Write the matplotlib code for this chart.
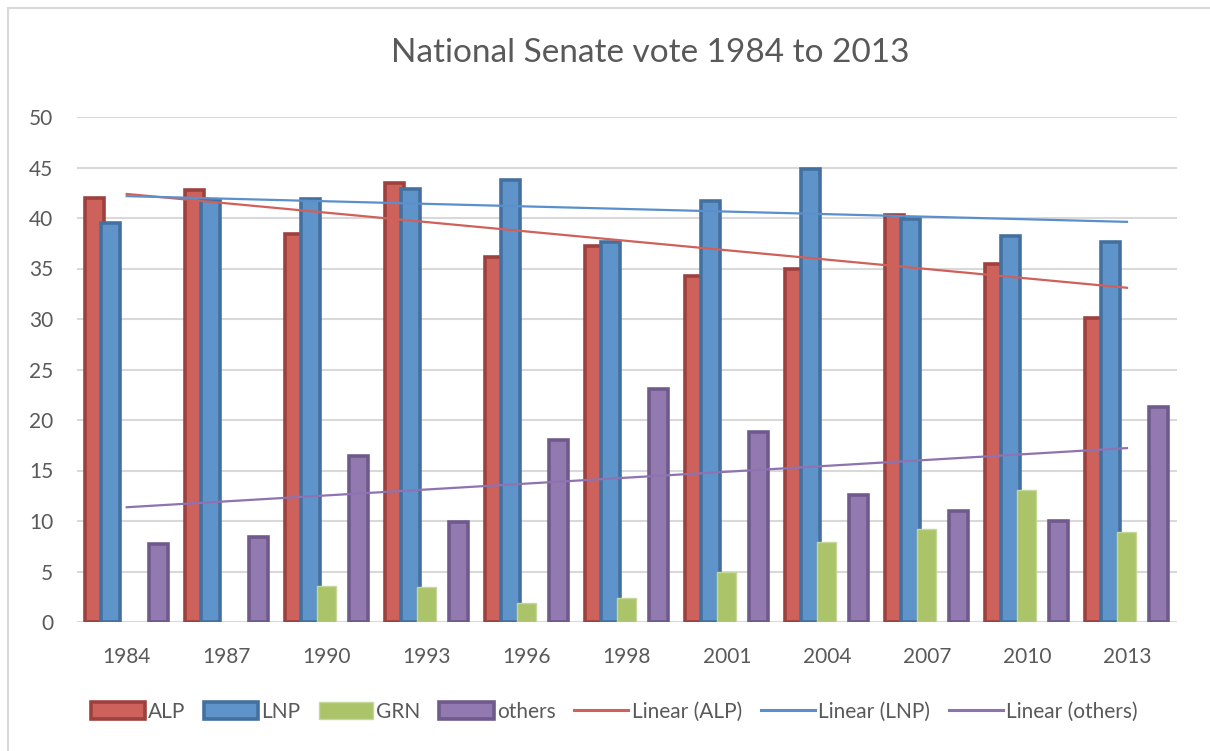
import numpy as np
import matplotlib
matplotlib.use("Agg")
import matplotlib.pyplot as plt
from matplotlib.patches import Rectangle, Patch
from matplotlib.lines import Line2D

years = ["1984", "1987", "1990", "1993", "1996", "1998", "2001", "2004", "2007", "2010", "2013"]
alp = [42.0, 42.8, 38.4, 43.5, 36.1, 37.2, 34.3, 35.0, 40.3, 35.4, 30.1]
lnp = [39.5, 41.8, 41.9, 42.9, 43.8, 37.6, 41.7, 44.9, 39.9, 38.2, 37.6]
grn = [None, None, 3.6, 3.5, 1.9, 2.4, 5.0, 7.9, 9.2, 13.1, 8.9]
others = [7.7, 8.4, 16.4, 9.9, 18.0, 23.1, 18.8, 12.6, 11.0, 10.0, 21.3]

plt.rcParams['font.family'] = ['Lato', 'DejaVu Sans']
TXT = '#595959'

W, H = 1210, 751
fig = plt.figure(figsize=(W / 100, H / 100), dpi=100)
ax = fig.add_axes([76.7 / W, 1 - 622 / H, (1177 - 76.7) / W, (622 - 117) / H])

# outer frame (left/top visible)
fig.patches.append(Rectangle((8 / W, -0.05), 1.2, 1 - 8 / H + 0.05, transform=fig.transFigure,
                             fill=False, edgecolor='#D9D9D9', linewidth=1.5))

x = np.arange(len(years))
bw = 0.19
slot = 0.16
series = [
    ("ALP", alp, -2 * slot, '#CD625D', '#9E413E'),
    ("LNP", lnp, -1 * slot, '#5F94CA', '#44709F'),
    ("GRN", grn, 0.0, '#ABC46A', '#C4D89A'),
    ("others", others, 2 * slot, '#9279B0', '#6F5A8B'),
]

ax.set_ylim(0, 50)
ax.set_xlim(-0.5, len(years) - 0.5)
ax.set_yticks(np.arange(0, 51, 5))
ax.yaxis.grid(True, color='#D9D9D9', linewidth=1.5)
ax.set_axisbelow(True)
for s in ax.spines.values():
    s.set_visible(False)
ax.tick_params(axis='both', length=0, labelsize=15, labelcolor=TXT)
ax.tick_params(axis='y', pad=17)
ax.tick_params(axis='x', pad=18)
ax.set_xticks(x)
ax.set_xticklabels(years)

handles = []
for name, vals, off, fc, ec in series:
    xs = [xi + off for xi, v in zip(x, vals) if v is not None]
    hs = [v for v in vals if v is not None]
    lw = 1.0 if name == "GRN" else 2.6
    ax.bar(xs, hs, width=bw, color=fc, edgecolor=ec, linewidth=lw, zorder=3)
    handles.append(Patch(facecolor=fc, edgecolor=ec, linewidth=lw, label=name))

trend = [("ALP", alp, '#D0605A'), ("LNP", lnp, '#5B8FCC'), ("others", others, '#8E73B0')]
for name, vals, col in trend:
    k, b = np.polyfit(x, np.array(vals, dtype=float), 1)
    ax.plot([x[0], x[-1]], [k * x[0] + b, k * x[-1] + b], color=col, linewidth=1.6, zorder=4)
    handles.append(Line2D([0], [0], color=col, linewidth=2.2, label=f"Linear ({name})"))

fig.text(650 / W, 1 - 53 / H, "National Senate vote 1984 to 2013", ha='center', va='center',
         fontsize=24, color=TXT)

leg = fig.legend(handles=handles, loc='center', bbox_to_anchor=(614 / W, 1 - 712 / H), ncol=7,
                 frameon=False, fontsize=15, handlelength=2.6, handleheight=0.9,
                 handletextpad=0.15, columnspacing=0.9, labelcolor=TXT)

fig.savefig("out.png", dpi=100)
